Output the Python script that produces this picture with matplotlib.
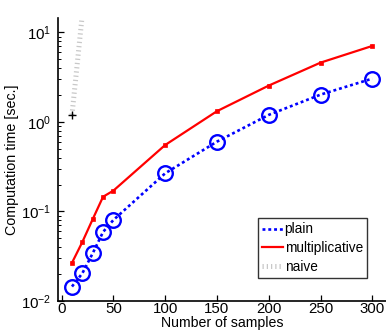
import matplotlib
matplotlib.use('Agg')
from matplotlib import pyplot as plt
from matplotlib.lines import Line2D

plt.rcParams['font.family'] = ['Liberation Sans', 'DejaVu Sans']
plt.rcParams['mathtext.default'] = 'regular'
plt.rcParams['font.size'] = 8.5

# data
samples = [10, 20, 30, 40, 50, 100, 150, 200, 250, 300]
plain = [0.0145, 0.0204, 0.0341, 0.059, 0.0804, 0.267, 0.603, 1.2, 2.02, 3.05]
multiplicative = [0.0267, 0.0456, 0.082, 0.146, 0.171, 0.553, 1.32, 2.55, 4.6, 7.07]
naive_samples = [10, 20]
naive = [1.2, 16.0]

fig = plt.figure(figsize=(3.86, 3.34), dpi=100)
ax = fig.add_axes([58 / 386, 33 / 334, 328 / 386, 283 / 334])

ax.plot(naive_samples, naive, color='#c8c8c8', linewidth=3.6,
        linestyle=(0, (0.25, 0.6)), solid_capstyle='butt', dash_capstyle='butt')
ax.plot(naive_samples[:1], naive[:1], linestyle='none', marker='+',
        color='black', markersize=6, markeredgewidth=1)
ax.plot(samples, multiplicative, color='red', linewidth=1.6,
        marker='s', markersize=2.7, markeredgewidth=0.5)
ax.plot(samples, plain, color='blue', linewidth=1.9,
        linestyle=(0, (1.1, 1.1)), marker='o', markersize=10.5,
        markerfacecolor='none', markeredgewidth=1.7)

ax.set_yscale('log')
ax.set_xlim(-3.5, 313.2)
ax.set_ylim(0.01, 14.5)
ax.set_xticks([0, 50, 100, 150, 200, 250, 300])

for side in ['top', 'right']:
    ax.spines[side].set_visible(False)
for side in ['left', 'bottom']:
    ax.spines[side].set_linewidth(1.2)
ax.tick_params(which='both', direction='in', top=False, right=False)
ax.tick_params(which='major', length=4, width=0.9)
ax.tick_params(axis='x', which='major', pad=1)
ax.tick_params(axis='y', which='major', pad=5)
ax.tick_params(which='minor', length=2, width=0.7)
ax.tick_params(axis='both', labelsize=10.8)

ax.set_xlabel('Number of samples', fontsize=10.2, labelpad=0)
ax.set_ylabel('Computation time [sec.]', fontsize=10.3, labelpad=1)

handles = [
    Line2D([], [], color='blue', linewidth=1.9, linestyle=(0, (1.1, 1.1))),
    Line2D([], [], color='red', linewidth=1.6),
    Line2D([], [], color='#c8c8c8', linewidth=3.6, linestyle=(0, (0.25, 0.6))),
]
leg = ax.legend(handles, ['plain', 'multiplicative', 'naive'],
                loc='lower right', bbox_to_anchor=(0.942, 0.081),
                fontsize=9.8, frameon=True, fancybox=False,
                handlelength=1.55, handletextpad=0.1, borderpad=0.3,
                labelspacing=0.35, borderaxespad=0)
leg.get_frame().set_edgecolor('black')
leg.get_frame().set_linewidth(1.0)

fig.savefig('out.png', dpi=100)
